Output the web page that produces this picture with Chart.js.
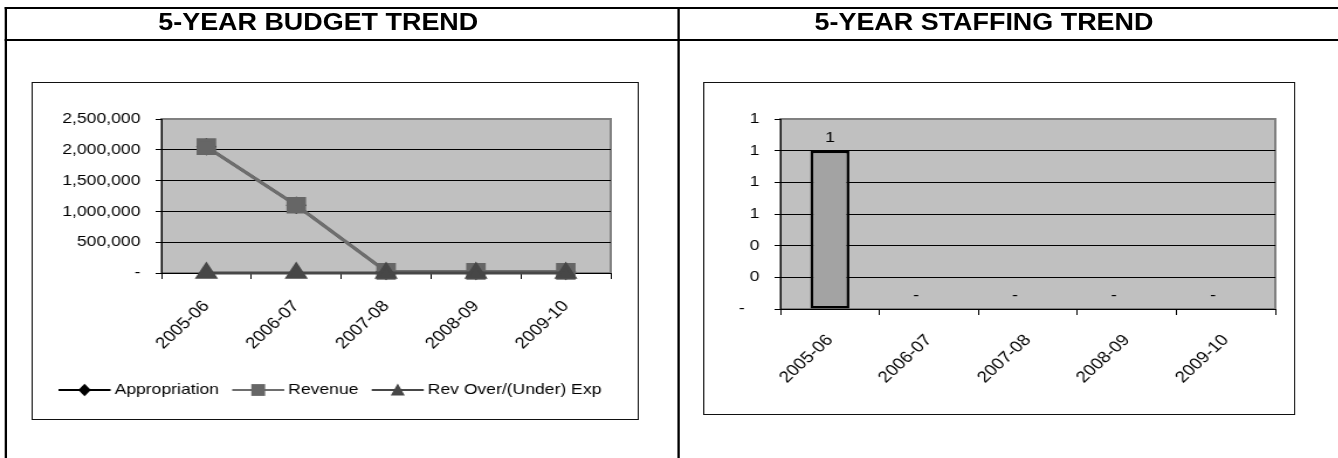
<!DOCTYPE html>
<html><head><meta charset="utf-8">
<script src="https://cdn.jsdelivr.net/npm/chart.js@4.4.1/dist/chart.umd.min.js"></script>
<style>
html,body{margin:0;padding:0;background:#fff;overflow:hidden;width:1338px;height:458px;}
#wrap{position:absolute;left:0;top:0;width:1144px;height:458px;transform:scaleX(1.17);transform-origin:0 0;}
.ln{position:absolute;background:#000;}
.title{position:absolute;top:9px;height:31px;line-height:31px;width:600px;text-align:center;font:bold 23px "Liberation Sans",Arial,sans-serif;color:#000;white-space:nowrap;}
canvas{position:absolute;}
</style></head><body>
<div id="wrap">
 <div class="ln" style="left:4px;top:7px;width:1140px;height:2px"></div>
 <div class="ln" style="left:4px;top:39px;width:1140px;height:2px"></div>
 <div class="ln" style="left:4px;top:7px;width:2px;height:451px"></div>
 <div class="ln" style="left:579px;top:7px;width:2px;height:451px"></div>
 <div class="title" style="left:-28px">5-YEAR BUDGET TREND</div>
 <div class="title" style="left:541px">5-YEAR STAFFING TREND</div>
 <canvas id="c1" width="519" height="338" style="left:27px;top:82px;width:519px;height:338px"></canvas>
 <canvas id="c2" width="506" height="333" style="left:601px;top:82px;width:506px;height:333px"></canvas>
</div>
<script>
// ---- data ----
const categories = ['2005-06','2006-07','2007-08','2008-09','2009-10'];
const appropriation = [2050000, 1100000, 25000, 25000, 25000];
const revenue = [2050000, 1100000, 25000, 25000, 25000];
const revOverUnder = [0, 0, 0, 0, 0];
const budgetTicks = [0, 500000, 1000000, 1500000, 2000000, 2500000];
const budgetTickLabels = ['-', '500,000', '1,000,000', '1,500,000', '2,000,000', '2,500,000'];
const staffing = [1, 0, 0, 0, 0];
const staffingTicks = [0, 0.2, 0.4, 0.6, 0.8, 1.0, 1.2];
const staffingTickLabels = ['-', '0', '0', '1', '1', '1', '1'];

const FONT = '"Liberation Sans", Arial, sans-serif';
Chart.defaults.font.family = FONT;
Chart.defaults.font.size = 15;
Chart.defaults.color = '#000';

const plotFrame = {
  id: 'plotFrame',
  beforeDraw(chart) {
    const {ctx, chartArea: a} = chart;
    ctx.save();
    ctx.fillStyle = '#c0c0c0';
    ctx.fillRect(a.left, a.top, a.right - a.left, a.bottom - a.top);
    ctx.strokeStyle = '#808080';
    ctx.lineWidth = 2;
    ctx.strokeRect(a.left, a.top, a.right - a.left, a.bottom - a.top);
    ctx.restore();
  },
  afterDraw(chart) {
    const {ctx, width, height} = chart;
    ctx.save();
    ctx.strokeStyle = '#111';
    ctx.lineWidth = 1;
    ctx.strokeRect(0.5, 0.5, width - 1, height - 1);
    ctx.restore();
  }
};

function drawMarker(ctx, style, x, y, color) {
  ctx.save();
  ctx.fillStyle = color;
  ctx.beginPath();
  if (style === 'rectRot') {
    ctx.moveTo(x, y - 6.3); ctx.lineTo(x + 5.4, y); ctx.lineTo(x, y + 6.3); ctx.lineTo(x - 5.4, y);
  } else if (style === 'rect') {
    ctx.rect(x - 5.9, y - 5.9, 11.8, 11.8);
  } else {
    ctx.moveTo(x, y - 6.5); ctx.lineTo(x + 6, y + 5.5); ctx.lineTo(x - 6, y + 5.5);
  }
  ctx.closePath();
  ctx.fill();
  ctx.restore();
}

const lineLegend = {
  id: 'lineLegend',
  afterDraw(chart) {
    const ctx = chart.ctx;
    const ds = chart.data.datasets;
    ctx.save();
    ctx.font = '15px ' + FONT;
    ctx.textBaseline = 'middle';
    const lineLen = 44.5, gapT = 3.4, gapI = 11.3;
    let total = 0;
    ds.forEach((d, i) => { total += lineLen + gapT + ctx.measureText(d.label).width + (i < ds.length - 1 ? gapI : 0); });
    let x = 255 - total / 2;
    const y = 308;
    ds.forEach(d => {
      ctx.strokeStyle = d.borderColor;
      ctx.lineWidth = 2;
      ctx.beginPath(); ctx.moveTo(x, y); ctx.lineTo(x + lineLen, y); ctx.stroke();
      drawMarker(ctx, d.pointStyle, x + lineLen / 2, y, d.pointBackgroundColor);
      x += lineLen + gapT;
      ctx.fillStyle = '#000';
      ctx.fillText(d.label, x, y);
      x += ctx.measureText(d.label).width + gapI;
    });
    ctx.restore();
  }
};

const barLabels = {
  id: 'barLabels',
  afterDatasetsDraw(chart) {
    const ctx = chart.ctx;
    const meta = chart.getDatasetMeta(0);
    const data = chart.data.datasets[0].data;
    ctx.save();
    ctx.font = '15px ' + FONT;
    ctx.fillStyle = '#000';
    ctx.textAlign = 'center';
    ctx.textBaseline = 'middle';
    meta.data.forEach((el, i) => {
      const v = data[i];
      const t = v === 0 ? '-' : String(Math.round(v));
      ctx.fillText(t, el.x + (v === 0 ? -11 : 0), el.y - 13);
    });
    ctx.restore();
  }
};

function yScale(ticksArr, labels, width) {
  const last = ticksArr.length - 1;
  return {
    min: ticksArr[0], max: ticksArr[last],
    afterBuildTicks: s => { s.ticks = ticksArr.map(v => ({value: v})); },
    afterFit: s => { s.width = width; },
    ticks: { padding: 13, callback: (v, i) => labels[i] === '-' && labels === staffingTickLabels ? '-\u00a0\u00a0\u00a0' : labels[i] },
    grid: { color: c => c.index === last ? 'rgba(0,0,0,0)' : '#000', tickColor: '#000', tickLength: 5, lineWidth: 1 },
    border: { display: true, color: '#000', width: 1 }
  };
}
function xScale(height, pad) {
  return {
    offset: true,
    afterFit: s => { s.height = height; },
    ticks: { autoSkip: false, minRotation: 47, maxRotation: 47, labelOffset: 0, padding: pad, font: { size: 16 } },
    grid: { offset: true, drawOnChartArea: false, tickLength: 6, color: '#000', tickColor: '#000' },
    border: { display: true, color: '#000', width: 1 }
  };
}

new Chart(document.getElementById('c1'), {
  type: 'line',
  data: {
    labels: categories,
    datasets: [
      { label: 'Appropriation', data: appropriation, borderColor: '#000', backgroundColor: '#000',
        pointStyle: 'rectRot', pointRadius: 7, pointBackgroundColor: '#000', pointBorderColor: '#000',
        borderWidth: 2.5, order: 3, clip: false, tension: 0 },
      { label: 'Revenue', data: revenue, borderColor: '#6e6e6e', backgroundColor: '#666',
        pointStyle: 'rect', pointRadius: 9.7, pointBackgroundColor: '#666', pointBorderColor: '#666',
        borderWidth: 3, order: 2, clip: false, tension: 0 },
      { label: 'Rev Over/(Under) Exp', data: revOverUnder, borderColor: '#474747', backgroundColor: '#474747',
        pointStyle: 'triangle', pointRadius: 8.5, pointBackgroundColor: '#474747', pointBorderColor: '#474747',
        borderWidth: 3, order: 1, clip: false, tension: 0 }
    ]
  },
  options: {
    responsive: false, animation: false,
    layout: { padding: { top: 37, right: 24, left: 0, bottom: 0 } },
    plugins: { legend: { display: false }, tooltip: { enabled: false } },
    scales: { x: xScale(147, 18), y: yScale(budgetTicks, budgetTickLabels, 111) }
  },
  plugins: [plotFrame, lineLegend]
});

new Chart(document.getElementById('c2'), {
  type: 'bar',
  data: {
    labels: categories,
    datasets: [
      { label: 'Staffing', data: staffing, backgroundColor: '#a3a3a3', borderColor: '#000',
        borderWidth: 2.5, borderSkipped: false, categoryPercentage: 1, barPercentage: 0.394 }
    ]
  },
  options: {
    responsive: false, animation: false,
    layout: { padding: { top: 37, right: 17, left: 0, bottom: 0 } },
    plugins: { legend: { display: false }, tooltip: { enabled: false } },
    scales: { x: xScale(106, 16), y: yScale(staffingTicks, staffingTickLabels, 66) }
  },
  plugins: [plotFrame, barLabels]
});
</script>
</body></html>
